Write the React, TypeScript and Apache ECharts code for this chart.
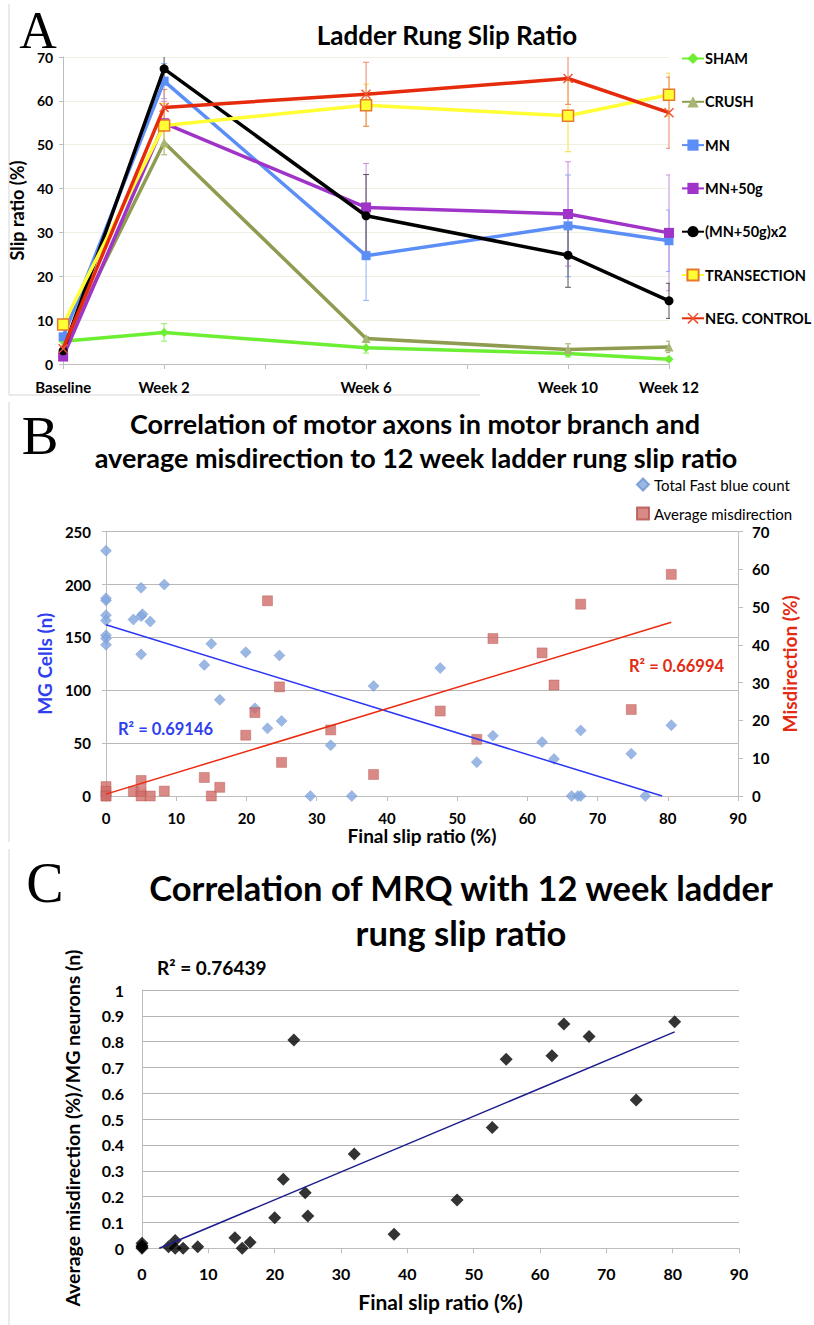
import React, { useEffect, useRef } from 'react';
import * as echarts from 'echarts';

const FONT = 'Lato, "Open Sans", sans-serif';
const SERIF = '"Liberation Serif", "DejaVu Serif", serif';

// ---------- Panel A : Ladder rung slip ratio ----------
const weekPositions = [0, 2, 6, 10, 12];
const weekTickLabels: Record<number, string> = { 0: 'Baseline', 2: 'Week 2', 6: 'Week 6', 10: 'Week 10', 12: 'Week 12' };
const groupNames = ['SHAM', 'CRUSH', 'MN', 'MN+50g', '(MN+50g)x2', 'TRANSECTION', 'NEG. CONTROL'];
const shamMean = [5.2, 7.2, 3.7, 2.4, 1.1];
const shamErr = [0, 2.0, 1.2, 0.8, 0.5];
const crushMean = [4.0, 50.5, 5.8, 3.3, 3.9];
const crushErr = [0, 2.8, 0.5, 1.3, 1.3];
const mnMean = [6.2, 64.5, 24.7, 31.5, 28.1];
const mnErr = [1.0, 4.0, 10.2, 11.6, 7.0];
const mn50Mean = [1.7, 54.9, 35.7, 34.2, 29.9];
const mn50Err = [0.5, 5.0, 10.0, 11.9, 13.2];
const mn50x2Mean = [3.0, 67.3, 33.8, 24.8, 14.4];
const mn50x2Err = [0.5, 3.0, 9.4, 7.3, 4.0];
const transMean = [9.0, 54.4, 59.0, 56.6, 61.4];
const transErr = [0.5, 5.0, 4.8, 8.2, 4.9];
const negMean = [3.5, 58.5, 61.5, 65.1, 57.3];
const negErr = [0.5, 4.1, 7.3, 5.9, 8.1];

// ---------- Panel B : motor axons / misdirection vs slip ratio ----------
const fbSlip = [0, 0, 0, 0, 0, 0, 0, 0, 0, 5.0, 8.3, 3.9, 5.0, 5.2, 6.3, 5.0, 15.0, 14.0, 19.9, 24.7, 16.2, 21.2, 23.0, 25.0, 32.0, 29.1, 35.0, 38.1, 47.6, 52.8, 55.1, 62.1, 63.8, 67.6, 66.3, 67.2, 67.6, 74.8, 76.8, 80.5];
const fbCount = [232, 185, 187, 171, 166, 152, 149, 143, 0, 197, 200, 167, 170, 172, 165, 134, 144, 124, 136, 133, 91, 83, 64, 71, 48, 0, 0, 104, 121, 32, 57, 51, 35, 62, 0, 0, 0, 40, 0, 67];
const misSlip = [0, 0, 0, 0, 3.9, 5.0, 5.0, 5.0, 6.3, 8.3, 14.0, 15.0, 16.2, 19.9, 21.2, 23.0, 24.7, 25.0, 32.0, 38.1, 47.6, 52.8, 55.1, 62.1, 63.8, 67.6, 74.8, 80.5];
const misValue = [2.5, 1.2, 0, 0, 1.2, 4.1, 1.2, 0, 0, 1.3, 4.9, 0, 2.3, 16.1, 22.1, 51.7, 28.9, 8.9, 17.5, 5.7, 22.5, 15.0, 41.7, 37.9, 29.4, 50.8, 22.9, 58.7];
const fbTrend = [[0, 162], [79.2, 0]];
const misTrend = [[0, 0.5], [80.5, 46]];
const fbR2 = 'R² = 0.69146';
const misR2 = 'R² = 0.66994';

// ---------- Panel C : MRQ vs slip ratio ----------
const mrqSlip = [0, 0, 0, 0, 4.0, 5.0, 5.0, 6.2, 8.4, 14.0, 15.1, 16.3, 20.0, 21.3, 22.9, 24.6, 25.0, 32.0, 38.0, 47.5, 52.8, 54.9, 61.8, 63.6, 67.4, 74.5, 80.3];
const mrqValue = [0.02, 0.01, 0.005, 0, 0.006, 0.03, 0, 0, 0.006, 0.041, 0, 0.023, 0.118, 0.267, 0.806, 0.215, 0.125, 0.365, 0.054, 0.187, 0.468, 0.732, 0.745, 0.868, 0.82, 0.574, 0.877];
const mrqTrend = [[2.6, 0], [80.3, 0.838]];
const mrqR2 = 'R² = 0.76439';

const zip = (xs: number[], ys: number[]) => xs.map((x, i) => [x, ys[i]]);

const xSymbol = 'path://M0,1L1,0L5,4L9,0L10,1L6,5L10,9L9,10L5,6L1,10L0,9L4,5Z';

export default function App() {
  const ref = useRef<HTMLDivElement>(null);
  useEffect(() => {
    if (!ref.current) return;
    const chart = echarts.init(ref.current, undefined, { renderer: 'svg' });

    const groups = [
      { mean: shamMean, err: shamErr, color: '#6cee33', errColor: '#8ef062', symbol: 'diamond', size: 9, border: '#6cee33', mcolor: '#6cee33' },
      { mean: crushMean, err: crushErr, color: '#8d9c50', errColor: '#9fae6c', symbol: 'triangle', size: 9, border: '#a6b572', mcolor: '#a6b572' },
      { mean: mnMean, err: mnErr, color: '#5b8ef7', errColor: '#8fb1f8', symbol: 'rect', size: 9, border: '#5b8ef7', mcolor: '#5b8ef7' },
      { mean: mn50Mean, err: mn50Err, color: '#a034c8', errColor: '#c88ee2', symbol: 'rect', size: 10, border: '#a034c8', mcolor: '#a034c8' },
      { mean: mn50x2Mean, err: mn50x2Err, color: '#000000', errColor: '#555555', symbol: 'circle', size: 9, border: '#000000', mcolor: '#000000' },
      { mean: transMean, err: transErr, color: '#ffff33', errColor: '#f2e23c', symbol: 'rect', size: 11, border: '#e8782a', mcolor: '#ffff33' },
      { mean: negMean, err: negErr, color: '#e62a0c', errColor: '#f08466', symbol: xSymbol, size: 10, border: '#ee5533', mcolor: '#ee5533' },
    ];

    const lineSeries: any[] = [];
    const errSeries: any[] = [];
    groups.forEach((g, gi) => {
      lineSeries.push({
        type: 'line',
        name: groupNames[gi],
        xAxisIndex: 0,
        yAxisIndex: 0,
        data: zip(weekPositions, g.mean),
        symbol: g.symbol,
        symbolSize: g.size,
        showSymbol: true,
        lineStyle: { color: g.color, width: 3.5 },
        itemStyle: { color: g.mcolor, borderColor: g.border, borderWidth: gi === 5 ? 1.5 : 0 },
        z: 3 + gi,
      });
      errSeries.push({
        type: 'custom',
        xAxisIndex: 0,
        yAxisIndex: 0,
        silent: true,
        clip: true,
        z: 2,
        data: weekPositions.map((w, i) => [w, g.mean[i] - g.err[i], g.mean[i] + g.err[i]]),
        encode: { x: 0, y: [1, 2] },
        renderItem: (params: any, api: any) => {
          const lo = api.coord([api.value(0), api.value(1)]);
          const hi = api.coord([api.value(0), api.value(2)]);
          if (Math.abs(lo[1] - hi[1]) < 1) return null;
          const w = 3;
          const st = { stroke: g.errColor, lineWidth: 1 };
          return {
            type: 'group',
            children: [
              { type: 'line', shape: { x1: lo[0], y1: lo[1], x2: hi[0], y2: hi[1] }, style: st },
              { type: 'line', shape: { x1: lo[0] - w, y1: lo[1], x2: lo[0] + w, y2: lo[1] }, style: st },
              { type: 'line', shape: { x1: hi[0] - w, y1: hi[1], x2: hi[0] + w, y2: hi[1] }, style: st },
            ],
          };
        },
      });
    });

    const tickLabel = (size: number) => ({ fontFamily: FONT, fontWeight: 'bold' as const, fontSize: size, color: '#000' });
    const axisGray = '#bdbdbd';

    const option: any = {
      animation: false,
      backgroundColor: '#ffffff',
      textStyle: { fontFamily: FONT },
      grid: [
        { left: 63, top: 57, width: 606, height: 307 },
        { left: 106, top: 531.7, width: 632, height: 264.3 },
        { left: 142, top: 990, width: 597, height: 258.3 },
      ],
      legend: [
        {
          data: groupNames,
          orient: 'vertical',
          left: 681,
          top: 51,
          padding: 0,
          itemWidth: 22,
          itemHeight: 14,
          itemGap: 28.3,
          selectedMode: false,
          textStyle: { ...tickLabel(14.5), padding: [0, 0, 0, -4] },
        },
        {
          data: ['Total Fast blue count', 'Average misdirection'],
          orient: 'vertical',
          left: 636,
          top: 477,
          padding: 0,
          itemWidth: 12,
          itemHeight: 12,
          itemGap: 14,
          selectedMode: false,
          textStyle: { fontFamily: FONT, fontSize: 15, lineHeight: 13, color: '#000' },
        },
      ],
      xAxis: [
        {
          gridIndex: 0, type: 'value', min: 0, max: 12, interval: 2,
          axisLine: { lineStyle: { color: axisGray } },
          axisTick: { show: true, length: 5, lineStyle: { color: axisGray } },
          splitLine: { show: false },
          axisLabel: { ...tickLabel(15), margin: 15, formatter: (v: number) => weekTickLabels[v] ?? '' },
        },
        {
          gridIndex: 1, type: 'value', min: 0, max: 90, interval: 10,
          axisLine: { lineStyle: { color: axisGray } },
          axisTick: { show: true, length: 5, lineStyle: { color: axisGray } },
          splitLine: { show: false },
          axisLabel: { ...tickLabel(15), margin: 14 },
          name: 'Final slip ratio (%)', nameLocation: 'middle', nameGap: 29,
          nameTextStyle: { ...tickLabel(19) },
        },
        {
          gridIndex: 2, type: 'value', min: 0, max: 90, interval: 10,
          axisLine: { lineStyle: { color: axisGray } },
          axisTick: { show: true, length: 5, lineStyle: { color: axisGray } },
          splitLine: { show: false },
          axisLabel: { ...tickLabel(16), margin: 17 },
          name: 'Final slip ratio (%)', nameLocation: 'middle', nameGap: 43,
          nameTextStyle: { ...tickLabel(21) },
        },
      ],
      yAxis: [
        {
          gridIndex: 0, type: 'value', min: 0, max: 70, interval: 10,
          axisLine: { show: true, lineStyle: { color: axisGray } },
          axisTick: { show: true, length: 4, lineStyle: { color: axisGray } },
          splitLine: { show: true, lineStyle: { color: '#efefe2' } },
          axisLabel: { ...tickLabel(14), margin: 10, lineHeight: 13 },
          name: 'Slip ratio (%)', nameLocation: 'middle', nameGap: 27,
          nameTextStyle: { ...tickLabel(18) },
        },
        {
          gridIndex: 1, type: 'value', min: 0, max: 250, interval: 50, position: 'left',
          axisLine: { show: true, lineStyle: { color: axisGray } },
          axisTick: { show: true, length: 4, lineStyle: { color: axisGray } },
          splitLine: { show: true, lineStyle: { color: '#b9b9b9' } },
          axisLabel: { ...tickLabel(15), margin: 15 },
          name: 'MG Cells (n)', nameLocation: 'middle', nameGap: 44,
          nameTextStyle: { ...tickLabel(19), color: '#2f3ff0' },
        },
        {
          gridIndex: 1, type: 'value', min: 0, max: 70, interval: 10, position: 'right',
          axisLine: { show: true, lineStyle: { color: axisGray } },
          axisTick: { show: true, length: 5, lineStyle: { color: axisGray } },
          splitLine: { show: false },
          axisLabel: { ...tickLabel(15), margin: 14, lineHeight: 13 },
          name: 'Misdirection (%)', nameLocation: 'middle', nameGap: 40, nameRotate: 90,
          nameTextStyle: { ...tickLabel(19), color: '#e32a12' },
        },
        {
          gridIndex: 2, type: 'value', min: 0, max: 1, interval: 0.1,
          axisLine: { show: true, lineStyle: { color: axisGray } },
          axisTick: { show: false },
          splitLine: { show: true, lineStyle: { color: '#b4b4b4' } },
          axisLabel: { ...tickLabel(16), margin: 18, formatter: (v: number) => String(Math.round(v * 10) / 10) },
          name: 'Average misdirection (%)/MG neurons (n)', nameLocation: 'middle', nameGap: 60,
          nameTextStyle: { ...tickLabel(19.5), padding: [0, 18, 0, 0] },
        },
      ],
      series: [
        ...errSeries,
        ...lineSeries,
        {
          type: 'scatter', name: 'Total Fast blue count', xAxisIndex: 1, yAxisIndex: 1,
          data: zip(fbSlip, fbCount), symbol: 'diamond', symbolSize: 11,
          itemStyle: { color: '#82a6df', borderColor: '#6d92cf', borderWidth: 0.5 }, z: 3,
        },
        {
          type: 'scatter', name: 'Average misdirection', xAxisIndex: 1, yAxisIndex: 2,
          data: zip(misSlip, misValue), symbol: 'rect', symbolSize: 10,
          itemStyle: { color: '#cf6c68', borderColor: '#b4504c', borderWidth: 0.5 }, z: 4,
        },
        {
          type: 'line', xAxisIndex: 1, yAxisIndex: 1, data: fbTrend, symbol: 'none',
          lineStyle: { color: '#2b35f5', width: 1.5 }, z: 6, silent: true,
        },
        {
          type: 'line', xAxisIndex: 1, yAxisIndex: 2, data: misTrend, symbol: 'none',
          lineStyle: { color: '#ec2a10', width: 1.5 }, z: 6, silent: true,
        },
        {
          type: 'scatter', xAxisIndex: 2, yAxisIndex: 3,
          data: zip(mrqSlip, mrqValue), symbol: 'diamond', symbolSize: 13,
          itemStyle: { color: '#000000' }, z: 3,
        },
        {
          type: 'line', xAxisIndex: 2, yAxisIndex: 3, data: mrqTrend, symbol: 'none',
          lineStyle: { color: '#1c1c8c', width: 1.5 }, z: 5, silent: true,
        },
      ],
      graphic: [
        // panel borders
        { type: 'line', shape: { x1: 9, y1: 4, x2: 9, y2: 395 }, style: { stroke: '#d6d6d6', lineWidth: 1 } },
        { type: 'line', shape: { x1: 9, y1: 395, x2: 480, y2: 395 }, style: { stroke: '#d6d6d6', lineWidth: 1 } },
        { type: 'line', shape: { x1: 9, y1: 402, x2: 9, y2: 842 }, style: { stroke: '#d6d6d6', lineWidth: 1 } },
        { type: 'line', shape: { x1: 9, y1: 849, x2: 9, y2: 1325 }, style: { stroke: '#d6d6d6', lineWidth: 1 } },
        // panel letters
        { type: 'text', x: 38, y: 30, style: { text: 'A', font: `52px ${SERIF}`, fill: '#000', textAlign: 'center', textVerticalAlign: 'middle' } },
        { type: 'text', x: 40, y: 435, style: { text: 'B', font: `55px ${SERIF}`, fill: '#000', textAlign: 'center', textVerticalAlign: 'middle' } },
        { type: 'text', x: 45, y: 883, style: { text: 'C', font: `56px ${SERIF}`, fill: '#000', textAlign: 'center', textVerticalAlign: 'middle' } },
        // titles
        { type: 'text', x: 447, y: 35, style: { text: 'Ladder Rung Slip Ratio', font: `bold 26px ${FONT}`, fill: '#000', textAlign: 'center', textVerticalAlign: 'middle' } },
        { type: 'text', x: 415, y: 423, style: { text: 'Correlation of motor axons in motor branch and', font: `bold 27px ${FONT}`, fill: '#000', textAlign: 'center', textVerticalAlign: 'middle' } },
        { type: 'text', x: 416, y: 457, style: { text: 'average misdirection to 12 week ladder rung slip ratio', font: `bold 27px ${FONT}`, fill: '#000', textAlign: 'center', textVerticalAlign: 'middle' } },
        { type: 'text', x: 461, y: 887, style: { text: 'Correlation of MRQ with 12 week ladder', font: `bold 34.5px ${FONT}`, fill: '#000', textAlign: 'center', textVerticalAlign: 'middle' } },
        { type: 'text', x: 461, y: 932, style: { text: 'rung slip ratio', font: `bold 34.5px ${FONT}`, fill: '#000', textAlign: 'center', textVerticalAlign: 'middle' } },
        // R² labels
        { type: 'text', x: 118, y: 729, style: { text: fbR2, font: `bold 16.5px ${FONT}`, fill: '#2f3ff0', textAlign: 'left', textVerticalAlign: 'middle' } },
        { type: 'text', x: 629, y: 666, style: { text: misR2, font: `bold 16.5px ${FONT}`, fill: '#e32a12', textAlign: 'left', textVerticalAlign: 'middle' } },
        { type: 'text', x: 157, y: 967, style: { text: mrqR2, font: `bold 19px ${FONT}`, fill: '#000', textAlign: 'left', textVerticalAlign: 'middle' } },
      ],
    };
    chart.setOption(option);
    return () => chart.dispose();
  }, []);
  return <div ref={ref} style={{ position: 'absolute', left: 0, top: 0, width: 814, height: 1325 }} />;
}
